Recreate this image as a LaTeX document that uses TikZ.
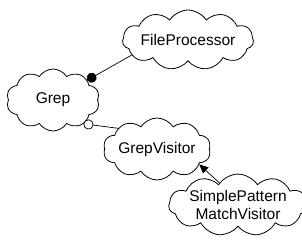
\documentclass[tikz,border=0pt]{standalone}
\usepackage{fontspec}
\setmainfont{Liberation Sans}
\usetikzlibrary{shapes.symbols,arrows.meta}
\begin{document}
\begin{tikzpicture}[x=1pt,y=-1pt,
  cls/.style={cloud, draw, line width=0.8pt, cloud puffs=11, cloud puff arc=115,
    cloud ignores aspect, inner sep=0pt, font=\fontsize{15.5}{18.5}\selectfont, align=center},
  link/.style={line width=0.7pt}]
\useasboundingbox (0,0) rectangle (302,240);
\node[cls, minimum width=119pt, minimum height=60pt] (fp) at (188,40) {FileProcessor};
\node[cls, minimum width=93pt, minimum height=62pt, cloud puffs=10] (grep) at (53,100) {Grep};
\node[cls, minimum width=92pt, minimum height=62pt, cloud puffs=10] (gv) at (157,149) {GrepVisitor};
\node[cls, minimum width=110pt, minimum height=56pt] (spmv) at (238,205) {SimplePattern\\MatchVisitor};
\draw[link, {Circle[length=10pt]}-] (grep.30) -- (fp.195);
\draw[link, {Circle[open,length=10pt,fill=white]}-] (grep.-38) -- (gv.152);
\draw[link, -{Triangle[length=9pt,width=8pt]}] (spmv.130) -- (gv.-20);
\end{tikzpicture}
\end{document}
